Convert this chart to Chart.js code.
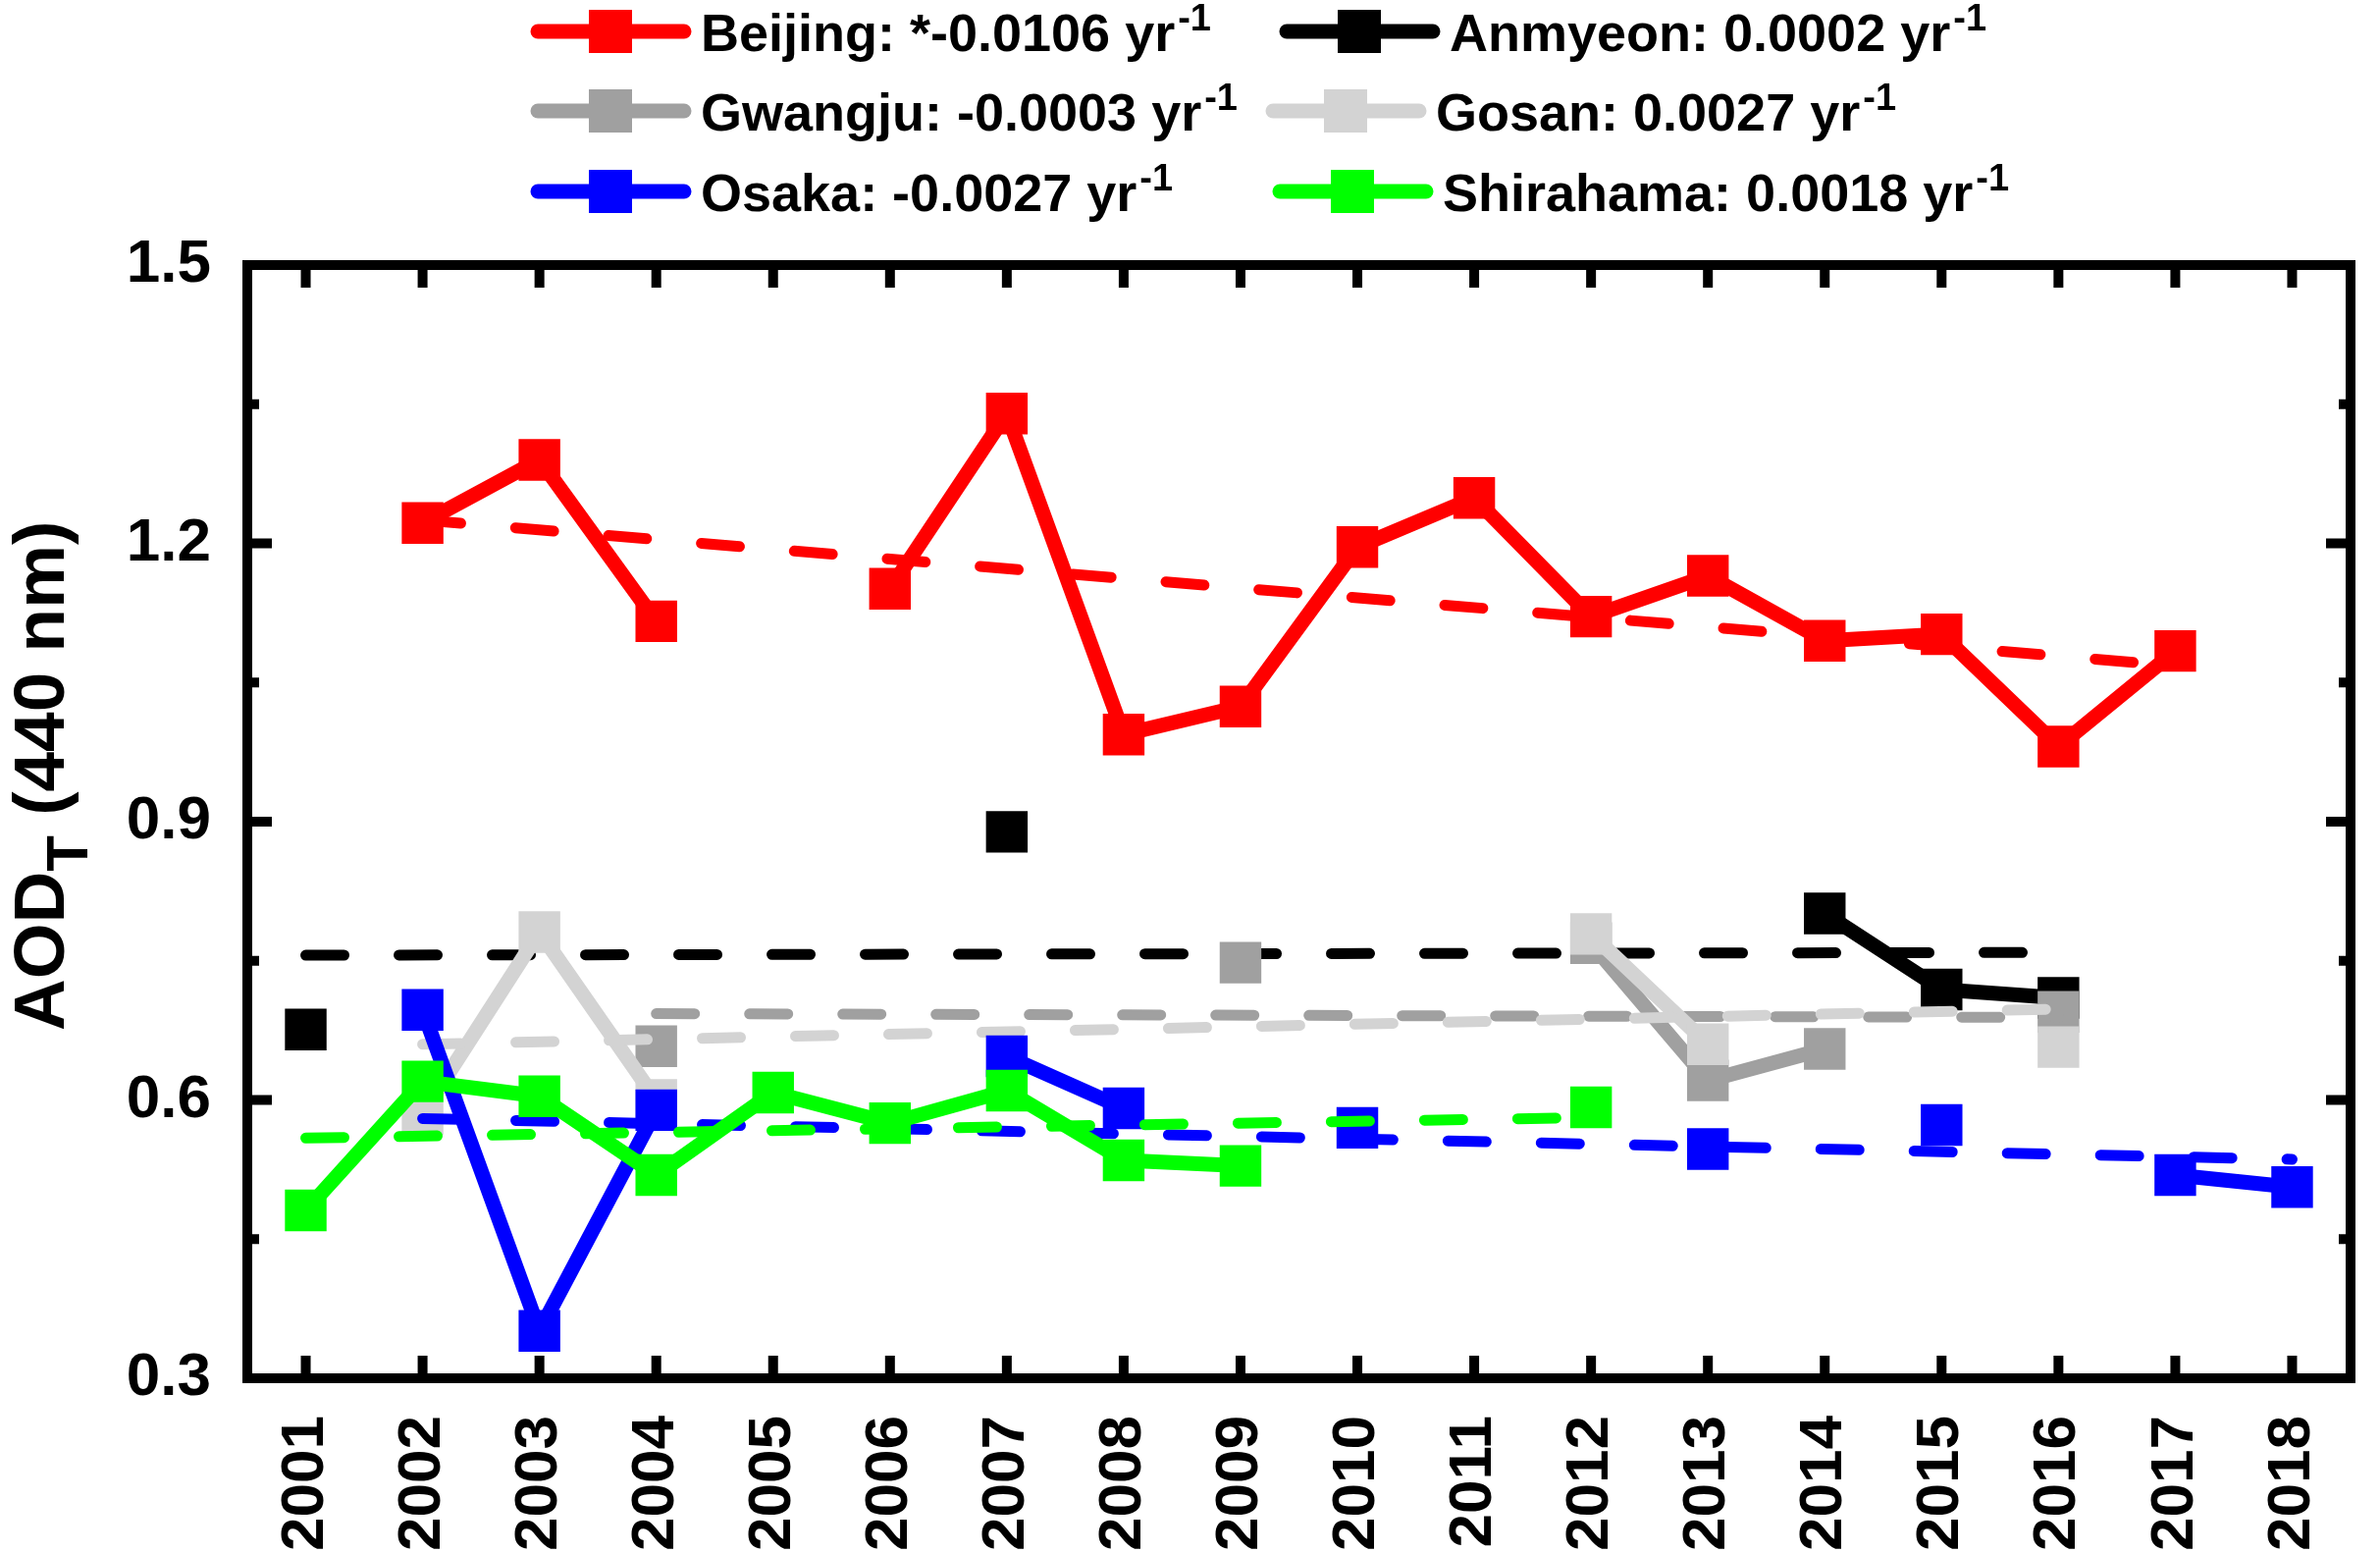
<!DOCTYPE html>
<html>
<head>
<meta charset="utf-8">
<script src="https://cdn.jsdelivr.net/npm/chart.js@4.4.0/dist/chart.umd.min.js"></script>
<style>
  html, body { margin: 0; padding: 0; background: #fff; overflow: hidden; }
  canvas { display: block; }
</style>
</head>
<body>
<canvas id="myChart" width="2425" height="1582"></canvas>
<script>
const years = ['2001', '2002', '2003', '2004', '2005', '2006', '2007', '2008', '2009',
               '2010', '2011', '2012', '2013', '2014', '2015', '2016', '2017', '2018'];

// annual mean AOD (440 nm), null = no data
const beijing   = [null, 1.222, 1.290, 1.116, null, 1.151, 1.340, 0.994, 1.024, 1.196, 1.249, 1.121, 1.165, 1.095, 1.102, 0.981, 1.084, null];
const anmyeon   = [0.676, null, null, null, null, null, 0.889, null, null, null, null, null, null, 0.801, 0.719, 0.710, null, null];
const gwangju   = [null, null, null, 0.658, null, null, null, null, 0.748, null, null, 0.769, 0.621, 0.655, null, 0.695, null, null];
const gosan     = [null, 0.585, 0.781, 0.600, null, null, null, null, null, null, null, 0.779, 0.660, null, null, 0.657, null, null];
const osaka     = [null, 0.697, 0.351, 0.589, null, null, 0.647, 0.591, null, 0.570, null, null, 0.547, null, 0.573, null, 0.519, 0.506];
const shirahama = [0.481, 0.620, 0.604, 0.519, 0.608, 0.575, 0.610, 0.535, 0.529, null, null, 0.592, null, null, null, null, null, null];

// linear trend lines: start / end year and value
const beijingTrendX   = ['2002', '2017'], beijingTrendY   = [1.225, 1.068];
const anmyeonTrendX   = ['2001', '2016'], anmyeonTrendY   = [0.756, 0.759];
const gwangjuTrendX   = ['2004', '2016'], gwangjuTrendY   = [0.693, 0.689];
const gosanTrendX     = ['2002', '2016'], gosanTrendY     = [0.660, 0.698];
const osakaTrendX     = ['2002', '2018'], osakaTrendY     = [0.580, 0.536];
const shirahamaTrendX = ['2001', '2012'], shirahamaTrendY = [0.559, 0.581];

const stationNames = ['Beijing', 'Anmyeon', 'Gwangju', 'Gosan', 'Osaka', 'Shirahama'];
const trendRates   = ['*-0.0106', '0.0002', '-0.0003', '0.0027', '-0.0027', '0.0018'];
const colors       = ['#ff0000', '#000000', '#a0a0a0', '#d3d3d3', '#0000ff', '#00ff00'];

const yTicks = [0.3, 0.6, 0.9, 1.2, 1.5];
const yMinorTicks = [0.45, 0.75, 1.05, 1.35];

const series = [beijing, anmyeon, gwangju, gosan, osaka, shirahama];
const trendX = [beijingTrendX, anmyeonTrendX, gwangjuTrendX, gosanTrendX, osakaTrendX, shirahamaTrendX];
const trendY = [beijingTrendY, anmyeonTrendY, gwangjuTrendY, gosanTrendY, osakaTrendY, shirahamaTrendY];

const FONT = '"Liberation Sans", Arial, sans-serif';

const datasets = [];
series.forEach((vals, i) => {
  datasets.push({
    label: stationNames[i],
    data: vals,
    borderColor: colors[i],
    backgroundColor: colors[i],
    borderWidth: 15,
    borderCapStyle: 'round',
    borderJoinStyle: 'round',
    pointStyle: 'rect',
    pointRadius: 30,
    pointBorderWidth: 0,
    pointBackgroundColor: colors[i],
    spanGaps: false,
    order: 20 - 2 * i
  });
  datasets.push({
    label: stationNames[i] + ' trend',
    data: trendX[i].map((x, k) => ({ x: x, y: trendY[i][k] })),
    borderColor: colors[i],
    borderWidth: 11,
    borderDash: [39, 56],
    borderCapStyle: 'round',
    pointRadius: 0,
    order: 19 - 2 * i
  });
});

// legend rows: [x of line sample, y of row]
const legendPos = [[541, 32], [1304, 32], [541, 113], [1290, 113], [541, 195], [1297, 195]];

const framePlugin = {
  id: 'frame',
  afterDraw(chart) {
    const { ctx, chartArea: a, scales } = chart;
    const x = scales.x, y = scales.y;
    ctx.save();
    ctx.strokeStyle = '#000';
    ctx.lineWidth = 10;
    ctx.strokeRect(a.left, a.top, a.right - a.left, a.bottom - a.top);

    // inward ticks on all four sides
    ctx.beginPath();
    years.forEach((yr, i) => {
      const px = x.getPixelForTick(i);
      ctx.moveTo(px, a.bottom); ctx.lineTo(px, a.bottom - 23);
      ctx.moveTo(px, a.top); ctx.lineTo(px, a.top + 23);
    });
    yTicks.forEach(v => {
      const py = y.getPixelForValue(v);
      ctx.moveTo(a.left, py); ctx.lineTo(a.left + 25, py);
      ctx.moveTo(a.right, py); ctx.lineTo(a.right - 25, py);
    });
    yMinorTicks.forEach(v => {
      const py = y.getPixelForValue(v);
      ctx.moveTo(a.left, py); ctx.lineTo(a.left + 12, py);
      ctx.moveTo(a.right, py); ctx.lineTo(a.right - 12, py);
    });
    ctx.stroke();

    // y axis title with subscript
    ctx.fillStyle = '#000';
    ctx.translate(65, 1050);
    ctx.rotate(-Math.PI / 2);
    ctx.textBaseline = 'alphabetic';
    ctx.textAlign = 'left';
    ctx.font = 'bold 73px ' + FONT;
    ctx.fillText('AOD', 0, 0);
    let w = ctx.measureText('AOD').width;
    ctx.font = 'bold 60px ' + FONT;
    ctx.fillText('T', w, 24);
    w += ctx.measureText('T').width;
    ctx.font = 'bold 73px ' + FONT;
    ctx.fillText(' (440 nm)', w, 0);
    ctx.restore();

    // legend
    ctx.save();
    stationNames.forEach((name, i) => {
      const [lx, ly] = legendPos[i];
      ctx.strokeStyle = colors[i];
      ctx.fillStyle = colors[i];
      ctx.lineWidth = 15;
      ctx.lineCap = 'round';
      ctx.beginPath();
      ctx.moveTo(lx + 7, ly); ctx.lineTo(lx + 156, ly);
      ctx.stroke();
      ctx.fillRect(lx + 81 - 22, ly - 22, 44, 44);
      ctx.fillStyle = '#000';
      ctx.textAlign = 'left';
      ctx.textBaseline = 'alphabetic';
      ctx.font = 'bold 54px ' + FONT;
      const txt = name + ': ' + trendRates[i] + ' yr';
      ctx.fillText(txt, lx + 173, ly + 20);
      const tw = ctx.measureText(txt).width;
      ctx.font = 'bold 38px ' + FONT;
      ctx.fillText('-1', lx + 173 + tw + 3, ly - 1);
    });
    ctx.restore();
  }
};

const ctx = document.getElementById('myChart').getContext('2d');
const myChart = new Chart(ctx, {
  type: 'line',
  data: { labels: years, datasets: datasets },
  options: {
    responsive: false,
    devicePixelRatio: 1,
    animation: false,
    elements: { line: { tension: 0 } },
    layout: { padding: { top: 270, right: 2, left: 0, bottom: 0 } },
    plugins: { legend: { display: false }, tooltip: { enabled: false } },
    scales: {
      x: {
        type: 'category',
        offset: true,
        grid: { display: false },
        border: { display: false },
        afterFit(scale) {
          scale.height = 178;
          scale.paddingLeft = 0;
          scale.paddingRight = 0;
        },
        ticks: {
          autoSkip: false,
          minRotation: 90,
          maxRotation: 90,
          padding: 30,
          color: '#000',
          font: { family: FONT, size: 62, weight: 'bold' }
        }
      },
      y: {
        type: 'linear',
        min: 0.3,
        max: 1.5,
        grid: { display: false },
        border: { display: false },
        afterFit(scale) {
          scale.width = 252;
          scale.paddingTop = 0;
          scale.paddingBottom = 0;
        },
        afterBuildTicks(scale) { scale.ticks = yTicks.map(v => ({ value: v })); },
        ticks: {
          padding: 29,
          color: '#000',
          font: { family: FONT, size: 62, weight: 'bold' },
          callback: v => v.toFixed(1)
        }
      }
    }
  },
  plugins: [framePlugin]
});
</script>
</body>
</html>
